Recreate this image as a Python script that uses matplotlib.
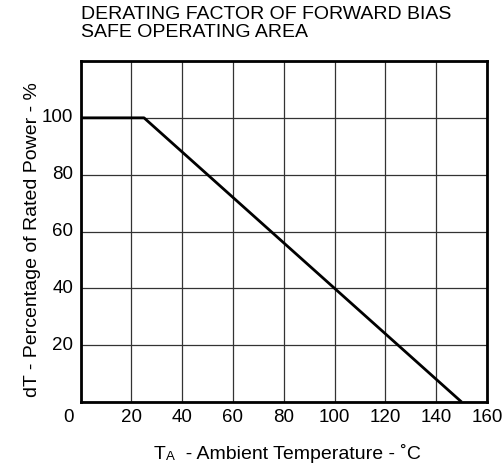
import matplotlib
matplotlib.use("Agg")
import matplotlib.pyplot as plt

plt.rcParams['font.family'] = ['Liberation Sans', 'DejaVu Sans']

# derating curve
temp = [0, 25, 150]
power = [100, 100, 0]

x_ticks = [20, 40, 60, 80, 100, 120, 140, 160]
y_ticks = [20, 40, 60, 80, 100]

fig = plt.figure(figsize=(5.04, 4.68), dpi=100)
ax = fig.add_axes([80.5 / 504, 1 - 402 / 468, 406.5 / 504, 341 / 468])

ax.plot(temp, power, color='black', lw=2, solid_capstyle='butt', zorder=3)

ax.set_xlim(0, 160)
ax.set_ylim(0, 120)
ax.set_xticks(range(0, 161, 20))
ax.set_yticks(range(0, 121, 20))
ax.grid(True, color='#333333', lw=0.9)
ax.tick_params(length=0, labelbottom=False, labelleft=False)
for s in ax.spines.values():
    s.set_linewidth(2)

fs = 13.5
for v in x_ticks:
    ax.text(v, -2.3, str(v), ha='center', va='top', fontsize=fs)
for v in y_ticks:
    ax.text(-2.8, v, str(v), ha='right', va='center', fontsize=fs)
ax.text(-2.8, -2.3, '0', ha='right', va='top', fontsize=fs)

fig.text(81 / 504, 1 - 6 / 468, 'DERATING FACTOR OF FORWARD BIAS\nSAFE OPERATING AREA',
         ha='left', va='top', fontsize=14, linespacing=1.1)

fig.text(33 / 504, 1 - 240 / 468, 'dT - Percentage of Rated Power - %',
         rotation=90, ha='center', va='center', fontsize=14)

t1 = fig.text(154 / 504, 1 - 459 / 468, 'T', ha='left', va='baseline', fontsize=14)
t2 = ax.annotate('A', xy=(1, 0), xycoords=t1, xytext=(0.3, 0.3), textcoords='offset points',
                 ha='left', va='bottom', fontsize=9.5)
ax.annotate('  - Ambient Temperature - ˚C', xy=(1, 0), xycoords=t2, xytext=(0, -0.3),
            textcoords='offset points', ha='left', va='bottom', fontsize=14)

fig.savefig('out.png', dpi=100)
